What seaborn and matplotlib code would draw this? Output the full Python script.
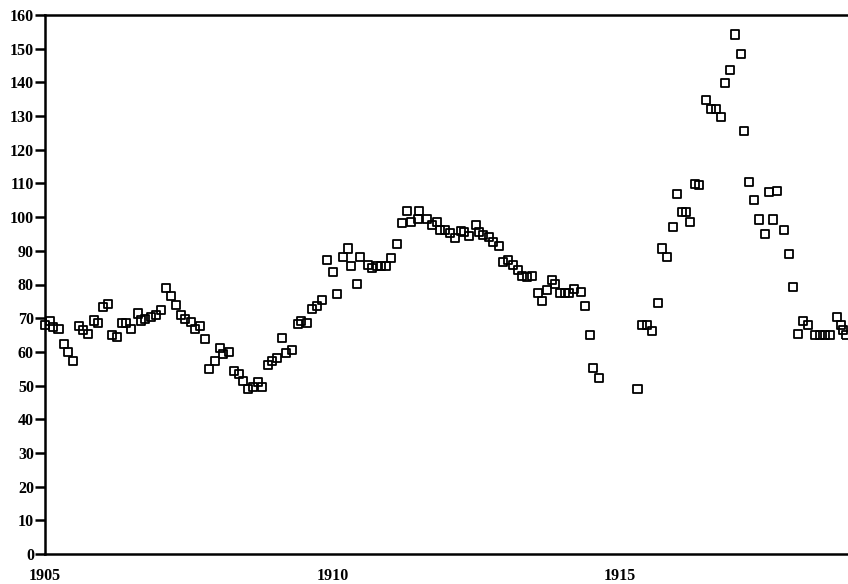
import matplotlib
matplotlib.use("Agg")
import matplotlib.pyplot as plt
import seaborn as sns
import pandas as pd

years = [
    1905.000, 1905.087, 1905.139, 1905.235, 1905.325, 1905.400, 1905.487, 1905.586,
    1905.656, 1905.748, 1905.847, 1905.922, 1906.009, 1906.096, 1906.165, 1906.252,
    1906.339, 1906.414, 1906.501, 1906.617, 1906.675, 1906.744, 1906.838, 1906.936,
    1907.012, 1907.110, 1907.197, 1907.283, 1907.370, 1907.440, 1907.534, 1907.603,
    1907.701, 1907.777, 1907.852, 1907.951, 1908.038, 1908.096, 1908.195, 1908.282,
    1908.374, 1908.449, 1908.536, 1908.623, 1908.710, 1908.779, 1908.873, 1908.943,
    1909.040, 1909.127, 1909.191, 1909.301, 1909.405, 1909.452, 1909.551, 1909.649,
    1909.725, 1909.812, 1909.910, 1910.003, 1910.073, 1910.177, 1910.275, 1910.322,
    1910.431, 1910.478, 1910.612, 1910.682, 1910.769, 1910.843, 1910.930, 1911.017,
    1911.117, 1911.214, 1911.301, 1911.365, 1911.492, 1911.504, 1911.638, 1911.725,
    1911.812, 1911.870, 1911.957, 1912.043, 1912.130, 1912.229, 1912.287, 1912.379,
    1912.490, 1912.553, 1912.623, 1912.727, 1912.797, 1912.901, 1912.960, 1913.057,
    1913.134, 1913.231, 1913.290, 1913.377, 1913.475, 1913.579, 1913.649, 1913.725,
    1913.812, 1913.870, 1913.957, 1914.043, 1914.118, 1914.205, 1914.317, 1914.391,
    1914.478, 1914.536, 1914.640, 1915.304, 1915.377, 1915.464, 1915.562, 1915.666,
    1915.725, 1915.823, 1915.927, 1915.997, 1916.073, 1916.148, 1916.217, 1916.304,
    1916.379, 1916.490, 1916.577, 1916.664, 1916.751, 1916.826, 1916.913, 1917.000,
    1917.099, 1917.162, 1917.243, 1917.330, 1917.423, 1917.522, 1917.591, 1917.656,
    1917.736, 1917.852, 1917.944, 1918.003, 1918.101, 1918.188, 1918.264, 1918.391,
    1918.478, 1918.565, 1918.652, 1918.768, 1918.843, 1918.884, 1918.930,
]
index_values = [
    68.0, 69.2, 67.3, 66.7, 62.3, 60.0, 57.3, 67.7,
    66.5, 65.3, 69.3, 68.7, 73.4, 74.2, 65.0, 64.3,
    68.7, 68.7, 66.7, 71.4, 69.3, 69.7, 70.4, 70.9,
    72.4, 79.0, 76.6, 73.9, 70.9, 69.8, 69.0, 66.7,
    67.7, 63.7, 54.8, 57.4, 61.2, 59.4, 60.0, 54.4,
    53.3, 51.4, 48.9, 49.7, 51.1, 49.7, 56.1, 57.4,
    58.1, 64.2, 59.6, 60.6, 68.2, 69.2, 68.5, 72.6,
    73.6, 75.4, 87.3, 83.8, 77.1, 88.2, 90.7, 85.6,
    80.1, 88.2, 85.8, 85.0, 85.5, 85.5, 85.5, 88.0,
    91.9, 98.2, 101.9, 98.6, 99.4, 101.9, 99.4, 97.7,
    98.6, 96.2, 96.2, 95.2, 93.7, 96.0, 95.7, 94.4,
    97.7, 95.7, 94.7, 94.2, 92.7, 91.5, 86.8, 87.3,
    85.8, 84.3, 82.5, 82.3, 82.5, 77.6, 75.2, 78.4,
    81.3, 80.1, 77.4, 77.4, 77.4, 78.6, 77.9, 73.6,
    65.0, 55.1, 52.3, 49.0, 68.0, 68.0, 66.3, 74.4,
    90.7, 88.1, 97.0, 106.9, 101.4, 101.4, 98.6, 109.8,
    109.5, 134.8, 132.0, 132.0, 129.6, 139.7, 143.7, 154.2,
    148.3, 125.6, 110.3, 105.1, 99.3, 94.9, 107.4, 99.3,
    107.8, 96.2, 89.0, 79.3, 65.2, 69.2, 68.0, 65.0,
    65.0, 65.0, 65.0, 70.4, 68.0, 66.5, 65.0,
]
x_ticks = [1905, 1910, 1915]
y_ticks = list(range(0, 161, 10))

df = pd.DataFrame({"year": years, "value": index_values})

sns.set_style("white")
plt.rcParams["font.family"] = ["Liberation Serif", "DejaVu Serif"]
plt.rcParams["font.weight"] = "bold"

fig = plt.figure(figsize=(8.48, 5.84), dpi=100)
ax = fig.add_axes([45 / 848, 30 / 584, 1 - 45 / 848, (554 - 15) / 584])

sns.scatterplot(data=df, x="year", y="value", ax=ax, marker="s", s=34,
                facecolor="none", edgecolor="black", linewidth=1.3,
                clip_on=False, zorder=3)

ax.set_xlim(1905, 1918.965)
ax.set_ylim(0, 160)
ax.set_xticks(x_ticks)
ax.set_xticklabels([str(t) for t in x_ticks])
ax.set_yticks(y_ticks)
ax.set_yticklabels([str(t) for t in y_ticks])
ax.set_xlabel("")
ax.set_ylabel("")

for side in ["left", "top", "bottom"]:
    ax.spines[side].set_visible(True)
    ax.spines[side].set_linewidth(1.8)
    ax.spines[side].set_color("black")
ax.spines["right"].set_visible(False)

ax.tick_params(axis="y", which="major", direction="out", length=7, width=1.8,
               pad=1, labelsize=11.5, left=True, colors="black")
ax.tick_params(axis="x", which="major", length=0, pad=10, labelsize=11.5,
               bottom=True, colors="black")
for lab in ax.get_xticklabels() + ax.get_yticklabels():
    lab.set_fontweight("bold")

fig.savefig("out.png", dpi=100, facecolor="white")
